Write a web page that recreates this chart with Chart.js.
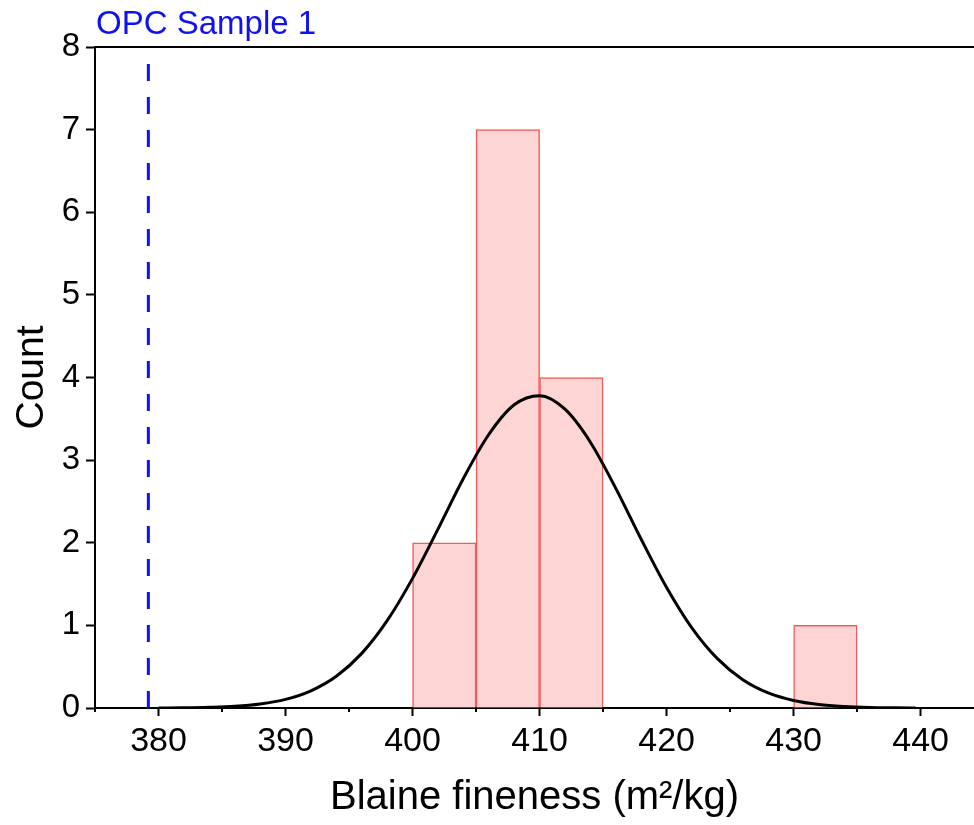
<!DOCTYPE html>
<html>
<head>
<meta charset="utf-8">
<script src="https://cdn.jsdelivr.net/npm/chart.js@4.4.1/dist/chart.umd.min.js"></script>
<style>
  html, body { margin: 0; padding: 0; background: #ffffff; }
  canvas { display: block; }
</style>
</head>
<body>
<canvas id="c" width="974" height="825"></canvas>
<script>
// ---- data ----
const binStarts = [400, 405, 410, 430];
const binWidth = 5;
const binCounts = [2, 7, 4, 1];

// fitted normal curve
const curveX = [380, 382, 384, 386, 388, 390, 392, 394, 396, 398, 400, 402, 404, 406, 408, 410,
                412, 414, 416, 418, 420, 422, 424, 426, 428, 430, 432, 434, 436, 438, 439.6];
const curveY = [0.001, 0.003, 0.009, 0.021, 0.049, 0.104, 0.208, 0.384, 0.661, 1.057, 1.569, 2.165,
                2.778, 3.31, 3.67, 3.78, 3.616, 3.217, 2.658, 2.042, 1.458, 0.967, 0.597, 0.342,
                0.182, 0.09, 0.041, 0.018, 0.007, 0.003, 0.001];

const sampleLabel = 'OPC Sample 1';
const sampleValue = 379.2;

const xTitle = 'Blaine fineness (m\u00B2/kg)';
const yTitle = 'Count';
const xMin = 375, xMax = 444.2, xStep = 5, xLabelStep = 10;
const yMin = 0, yMax = 8, yStep = 1;

const FONT = "'Liberation Sans', Arial, sans-serif";

const barData = binStarts.map((s, i) => ({ x: s + binWidth / 2, y: binCounts[i] }));
const curveData = curveX.map((x, i) => ({ x: x, y: curveY[i] }));
const refLine = [{ x: sampleValue, y: yMin }, { x: sampleValue, y: yMax }];

const extras = {
  id: 'extras',
  afterDraw(chart) {
    const ctx = chart.ctx;
    const a = chart.chartArea;
    const xs = chart.scales.x;
    ctx.save();
    // top frame line
    ctx.strokeStyle = '#000';
    ctx.lineWidth = 2;
    ctx.beginPath();
    ctx.moveTo(a.left, a.top);
    ctx.lineTo(a.right, a.top);
    ctx.stroke();
    // minor ticks
    ctx.lineWidth = 2;
    xs.ticks.forEach(t => {
      if (t.value % xLabelStep !== 0) {
        const px = Math.round(xs.getPixelForValue(t.value));
        ctx.beginPath();
        ctx.moveTo(px, a.bottom);
        ctx.lineTo(px, a.bottom + 4);
        ctx.stroke();
      }
    });
    // reference label
    ctx.fillStyle = '#1010f5';
    ctx.font = "33px " + FONT;
    ctx.textBaseline = 'alphabetic';
    ctx.textAlign = 'left';
    ctx.fillText(sampleLabel, a.left + 1, 34);
    ctx.restore();
  }
};

new Chart(document.getElementById('c'), {
  type: 'bar',
  data: {
    datasets: [
      {
        type: 'line',
        data: curveData,
        borderColor: '#000000',
        borderWidth: 3,
        pointRadius: 0,
        cubicInterpolationMode: 'monotone',
        fill: false,
        order: 0
      },
      {
        type: 'line',
        data: refLine,
        borderColor: '#1010f0',
        borderWidth: 3,
        borderDash: [17, 16],
        pointRadius: 0,
        fill: false,
        order: 1
      },
      {
        type: 'bar',
        data: barData,
        backgroundColor: 'rgba(253, 213, 213, 1)',
        borderColor: 'rgba(245, 90, 90, 1)',
        borderWidth: 1.5,
        barPercentage: 1,
        categoryPercentage: 1,
        order: 2
      }
    ]
  },
  options: {
    responsive: false,
    animation: false,
    layout: { padding: { top: 47, right: 0, left: 0, bottom: 0 } },
    plugins: { legend: { display: false }, tooltip: { enabled: false }, title: { display: false } },
    scales: {
      x: {
        type: 'linear',
        position: 'bottom',
        offset: false,
        min: xMin,
        max: xMax,
        bounds: 'data',
        grid: {
          offset: false,
          drawOnChartArea: false,
          drawTicks: true,
          tickLength: 8,
          tickWidth: 2,
          tickColor: (c) => (c.tick && c.tick.value % xLabelStep === 0) ? '#000' : 'rgba(0,0,0,0)'
        },
        border: { display: true, color: '#000', width: 2 },
        ticks: {
          stepSize: xStep,
          includeBounds: false,
          autoSkip: false,
          maxRotation: 0,
          padding: 5,
          color: '#000',
          font: { family: FONT, size: 34 },
          callback: (v) => (v % xLabelStep === 0 ? String(v) : '')
        },
        title: {
          display: true,
          text: xTitle,
          color: '#000',
          font: { family: FONT, size: 40 },
          padding: { top: 0, bottom: 3 }
        },
        afterFit: (s) => { s.height = 117; }
      },
      y: {
        type: 'linear',
        position: 'left',
        min: yMin,
        max: yMax,
        grid: {
          drawOnChartArea: false,
          drawTicks: true,
          tickLength: 9,
          tickWidth: 2,
          tickColor: '#000'
        },
        border: { display: true, color: '#000', width: 2 },
        ticks: {
          stepSize: yStep,
          padding: 6,
          color: '#000',
          font: { family: FONT, size: 33 }
        },
        title: {
          display: true,
          text: yTitle,
          color: '#000',
          font: { family: FONT, size: 39 },
          padding: { top: 9, bottom: 0 }
        },
        afterFit: (s) => { s.width = 95; }
      }
    }
  },
  plugins: [extras]
});
</script>
</body>
</html>
